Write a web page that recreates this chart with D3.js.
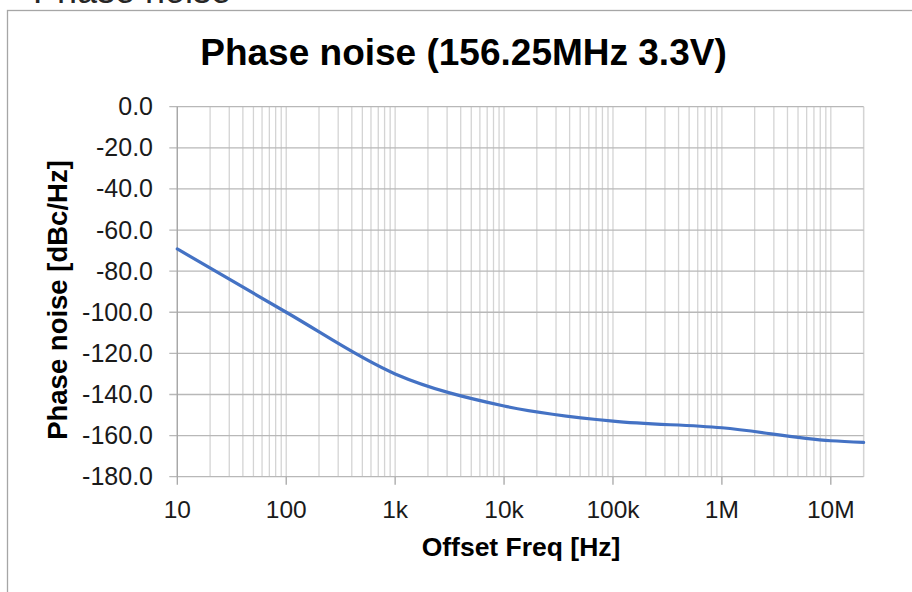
<!DOCTYPE html>
<html>
<head>
<meta charset="utf-8">
<script src="https://cdn.jsdelivr.net/npm/d3@7"></script>
<style>
  body { margin: 0; background: #fff; }
  svg { display: block; font-family: "Liberation Sans", Arial, sans-serif; }
</style>
</head>
<body>
<div id="chart"></div>
<script>
// data ----------------------------------------------------------------------
const freq  = [10, 100, 1e3, 1e4, 1e5, 1e6, 1e7, 2e7];
const noise = [-69.2, -100, -130, -145.6, -153, -156.2, -162.5, -163.3];

const yTicks = [0, -20, -40, -60, -80, -100, -120, -140, -160, -180];
const xTicks = [10, 100, 1e3, 1e4, 1e5, 1e6, 1e7];
const xTickLabels = ["10", "100", "1k", "10k", "100k", "1M", "10M"];

const width = 912, height = 592;
const margin = {top: 106.7, right: 912 - 863.6, bottom: 592 - 476.7, left: 177.3};

const svg = d3.select('#chart')
    .append('svg')
    .attr('width', width)
    .attr('height', height);

// outer frame (partly outside the window)
svg.append('rect')
    .attr('x', 7.5).attr('y', 10.5)
    .attr('width', 960).attr('height', 640)
    .attr('fill', 'none')
    .attr('stroke', '#a6a6a6')
    .attr('stroke-width', 1.3);

// clipped heading above the frame
svg.append('text')
    .attr('x', 33).attr('y', 3)
    .attr('font-size', 36)
    .attr('fill', '#262626')
    .text('Phase noise');

const x = d3.scaleLog()
    .domain([10, 2e7])
    .range([margin.left, width - margin.right]);

const y = d3.scaleLinear()
    .domain([-180, 0])
    .range([height - margin.bottom, margin.top]);

// minor vertical gridlines (2..9 of every decade)
const minor = [];
for (let d = 10; d < 2e7; d *= 10) {
    for (let k = 1; k <= 9; k++) {
        const v = d * k;
        if (v <= 2e7) minor.push(v);
    }
}
minor.push(2e7);

svg.append('g')
    .selectAll('line')
    .data(minor)
    .join('line')
    .attr('x1', d => x(d)).attr('x2', d => x(d))
    .attr('y1', y(0)).attr('y2', y(-180))
    .attr('stroke', '#d4d4d4')
    .attr('stroke-width', 1.3);

// horizontal gridlines with small outside ticks
svg.append('g')
    .selectAll('line')
    .data(yTicks)
    .join('line')
    .attr('x1', margin.left - 8).attr('x2', x(2e7))
    .attr('y1', d => y(d)).attr('y2', d => y(d))
    .attr('stroke', '#b8b8b8')
    .attr('stroke-width', 1.3);

// left axis line
svg.append('line')
    .attr('x1', x(10)).attr('x2', x(10))
    .attr('y1', y(0)).attr('y2', y(-180))
    .attr('stroke', '#a6a6a6')
    .attr('stroke-width', 1.3);

// x decade ticks below the axis
svg.append('g')
    .selectAll('line')
    .data(xTicks)
    .join('line')
    .attr('x1', d => x(d)).attr('x2', d => x(d))
    .attr('y1', y(-180)).attr('y2', y(-180) + 8)
    .attr('stroke', '#a6a6a6')
    .attr('stroke-width', 1.3);

// y tick labels
svg.append('g')
    .selectAll('text')
    .data(yTicks)
    .join('text')
    .attr('x', 153)
    .attr('y', d => y(d) + 8.5)
    .attr('text-anchor', 'end')
    .attr('font-size', 25)
    .attr('fill', '#1a1a1a')
    .text(d => d.toFixed(1));

// x tick labels
svg.append('g')
    .selectAll('text')
    .data(xTicks)
    .join('text')
    .attr('x', d => x(d))
    .attr('y', 518)
    .attr('text-anchor', 'middle')
    .attr('font-size', 24.5)
    .attr('fill', '#1a1a1a')
    .text((d, i) => xTickLabels[i]);

// the curve
const line = d3.line()
    .x((d, i) => x(freq[i]))
    .y(d => y(d))
    .curve(d3.curveMonotoneX);

svg.append('path')
    .datum(noise)
    .attr('d', line)
    .attr('fill', 'none')
    .attr('stroke', '#4472C4')
    .attr('stroke-width', 3.2)
    .attr('stroke-linecap', 'round');

// titles
svg.append('text')
    .attr('x', 463.5).attr('y', 65)
    .attr('text-anchor', 'middle')
    .attr('font-size', 37)
    .attr('font-weight', 'bold')
    .attr('fill', '#000')
    .text('Phase noise (156.25MHz 3.3V)');

svg.append('text')
    .attr('x', 521).attr('y', 556)
    .attr('text-anchor', 'middle')
    .attr('font-size', 26.5)
    .attr('font-weight', 'bold')
    .attr('fill', '#000')
    .text('Offset Freq [Hz]');

svg.append('text')
    .attr('transform', 'translate(67,300) rotate(-90)')
    .attr('text-anchor', 'middle')
    .attr('font-size', 27.5)
    .attr('font-weight', 'bold')
    .attr('fill', '#000')
    .text('Phase noise [dBc/Hz]');
</script>
</body>
</html>
